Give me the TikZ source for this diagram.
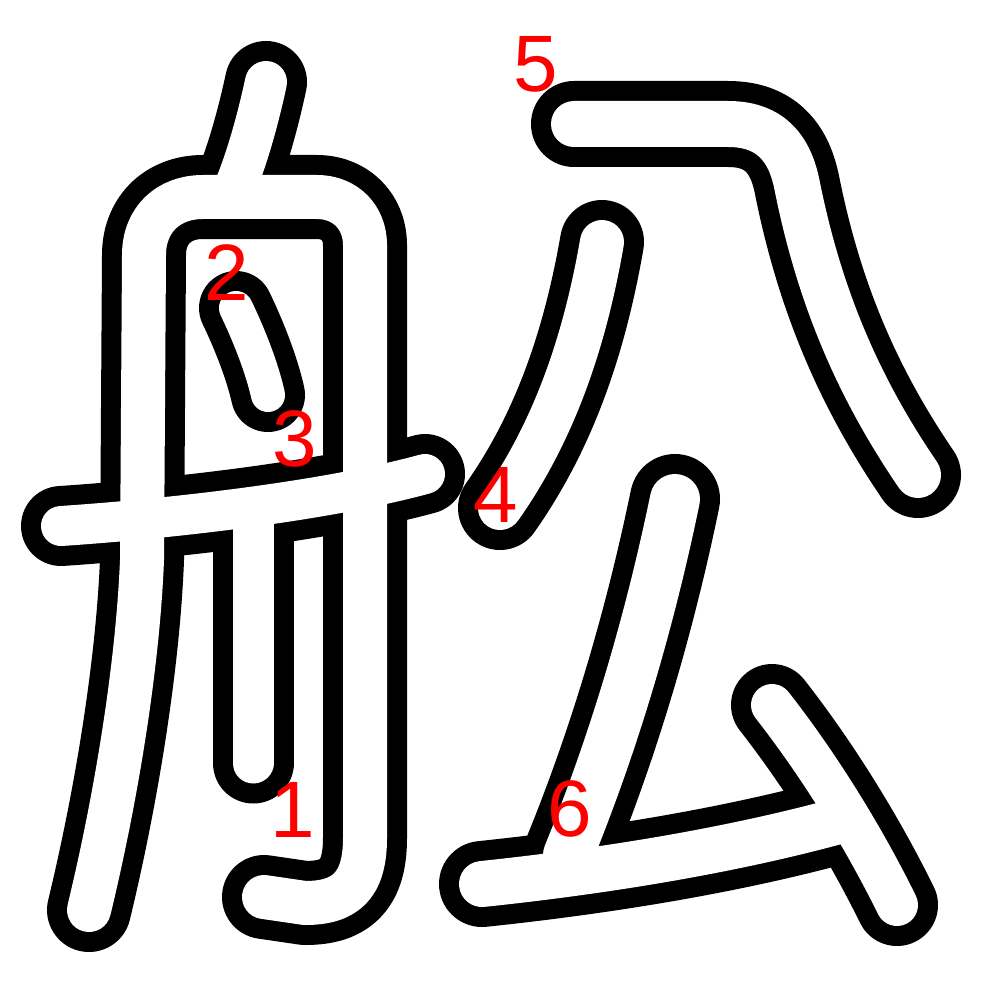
\documentclass[tikz,border=0pt]{standalone}
\usepackage{fontspec}
\setmainfont{Liberation Sans}
\newcommand\kanjistrokes{%
  % frame of 舟 (left sweep, top bar, right side with hook)
  \draw[sk=64] (89,910) .. controls (118,790) and (138,660) .. (142,560) -- (144,255)
     .. controls (144,220) and (168,197) .. (203,197) -- (317,197)
     .. controls (345,197) and (365,217) .. (365,245) -- (365,838)
     .. controls (365,886) and (345,903) .. (305,903) -- (264,897);
  % top dot
  \draw[sk=62] (266,82) .. controls (260,110) and (250,150) .. (236,185);
  % inner dot
  \draw[sk=54] (236,308) .. controls (249,335) and (262,368) .. (268,395);
  % long horizontal
  \draw[sk=60] (61,526) .. controls (180,518) and (330,500) .. (425,474);
  % inner vertical
  \draw[sk=61] (253,510) -- (253,763);
  % stroke 4
  \draw[sk=64] (602,242) .. controls (585,340) and (555,430) .. (500,508);
  % stroke 5
  \draw[sk=66] (574,124) -- (728,124) .. controls (772,124) and (790,150) .. (797,185)
     .. controls (820,300) and (860,390) .. (918,475);
  % stroke 6: slant, bottom bar, right dot
  \draw[sk=70] (675,499) .. controls (650,620) and (615,740) .. (568,855);
  \draw[sk=66] (482,884) .. controls (615,870) and (735,849) .. (835,822);
  \draw[sk=62] (772,705) .. controls (815,760) and (860,830) .. (897,905);
}
\begin{document}
\begin{tikzpicture}[x=1pt,y=-1pt,line cap=round,line join=round,
  num/.style={text=red,font=\fontsize{80}{80}\selectfont,inner sep=0pt,anchor=base}]
\useasboundingbox (0,0) rectangle (1000,1000);
\fill[white] (0,0) rectangle (1000,1000);
\tikzset{sk/.style={draw=black,line width=#1pt+20pt}}
\kanjistrokes
\tikzset{sk/.style={draw=white,line width=#1pt-20pt}}
\kanjistrokes
\node[num] (n1) at (293,837) {1};
\node[num] (n2) at (227,300) {2};
\node[num] (n3) at (295,466) {3};
\node[num] (n4) at (496,522) {4};
\node[num] (n5) at (536,92) {5};
\node[num] (n6) at (570,836) {6};
\end{tikzpicture}
\end{document}
